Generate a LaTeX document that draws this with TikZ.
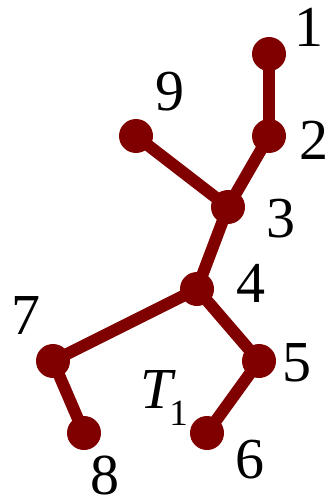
\documentclass[tikz,border=0pt]{standalone}
\usepackage{fontspec}
\setmainfont{Liberation Serif}
\definecolor{tree}{RGB}{128,0,0}
\begin{document}
\begin{tikzpicture}[x=1pt,y=-1pt,
  vtx/.style={circle,fill=tree,inner sep=0pt,minimum size=34pt},
  edge/.style={draw=tree,line width=12pt},
  lbl/.style={inner sep=0pt,font=\fontsize{58}{58}\selectfont}]
\useasboundingbox (0,0) rectangle (328,497);
\node[vtx] (v1) at (269,54) {};
\node[vtx] (v2) at (269,136) {};
\node[vtx] (v3) at (228,207) {};
\node[vtx] (v4) at (197,289) {};
\node[vtx] (v5) at (259,361) {};
\node[vtx] (v6) at (207,433) {};
\node[vtx] (v7) at (53,361) {};
\node[vtx] (v8) at (84,433) {};
\node[vtx] (v9) at (136,136) {};
\begin{scope}[on background layer/.style={}]
\end{scope}
\draw[edge] (v1.center) -- (v2.center);
\draw[edge] (v2.center) -- (v3.center);
\draw[edge] (v9.center) -- (v3.center);
\draw[edge] (v3.center) -- (v4.center);
\draw[edge] (v4.center) -- (v7.center);
\draw[edge] (v4.center) -- (v5.center);
\draw[edge] (v7.center) -- (v8.center);
\draw[edge] (v5.center) -- (v6.center);
\node[lbl] (l1) at (309,27) {1};
\node[lbl] (l2) at (314,140) {2};
\node[lbl] (l3) at (281,219) {3};
\node[lbl] (l4) at (251,283) {4};
\node[lbl] (l5) at (297,363) {5};
\node[lbl] (l6) at (250,460) {6};
\node[lbl] (l7) at (26,316) {7};
\node[lbl] (l8) at (105,475) {8};
\node[lbl] (l9) at (170,92) {9};
\node[lbl,anchor=base west] (t1) at (140,408) {\itshape T\kern-3pt\raisebox{-17pt}{\upshape\fontsize{37}{37}\selectfont 1}};
\end{tikzpicture}
\end{document}
